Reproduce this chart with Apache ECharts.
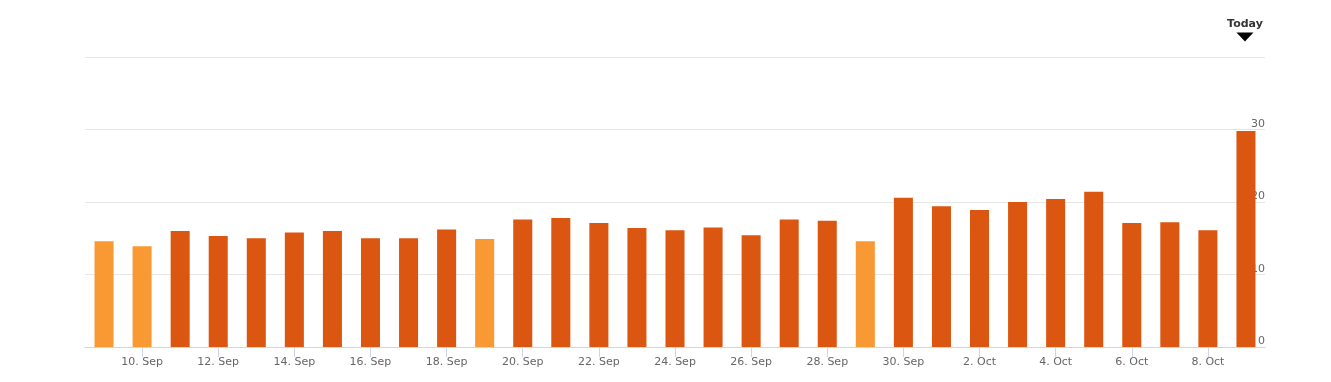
<!DOCTYPE html>
<html>
<head>
<meta charset="utf-8">
<script src="https://cdn.jsdelivr.net/npm/echarts@6/dist/echarts.min.js"></script>
<style>
html,body{margin:0;padding:0;background:#fff;}
#c{width:1331px;height:382px;}
</style>
</head>
<body>
<div id="c"></div>
<script>
// Data
const categories = [
  '9. Sep','10. Sep','11. Sep','12. Sep','13. Sep','14. Sep','15. Sep','16. Sep','17. Sep','18. Sep',
  '19. Sep','20. Sep','21. Sep','22. Sep','23. Sep','24. Sep','25. Sep','26. Sep','27. Sep','28. Sep',
  '29. Sep','30. Sep','1. Oct','2. Oct','3. Oct','4. Oct','5. Oct','6. Oct','7. Oct','8. Oct','9. Oct'
];
const values = [
  14.6, 13.9, 16.0, 15.3, 15.0, 15.8, 16.0, 15.0, 15.0, 16.2,
  14.9, 17.6, 17.8, 17.1, 16.4, 16.1, 16.5, 15.4, 17.6, 17.4,
  14.6, 20.6, 19.4, 18.9, 20.0, 20.4, 21.4, 17.1, 17.2, 16.1, 29.8
];
// categories drawn in the lighter colour
const lightDays = ['9. Sep','10. Sep','19. Sep','29. Sep'];
const todayLabel = 'Today';
const todayCategory = '9. Oct';

const darkColor = '#DB5610';
const lightColor = '#F89933';

const chart = echarts.init(document.getElementById('c'));
chart.setOption({
  animation: false,
  grid: { left: 85, right: 66, top: 57, bottom: 35 },
  xAxis: {
    type: 'category',
    data: categories,
    boundaryGap: true,
    axisLine: { lineStyle: { color: '#ccd6eb', width: 1 } },
    axisTick: { show: true, alignWithLabel: true, length: 10, lineStyle: { color: '#ccd6eb' },
      interval: (i) => i % 2 === 1 },
    axisLabel: { interval: (i) => i % 2 === 1, color: '#666666', fontSize: 11,
      fontFamily: 'DejaVu Sans', margin: 10 },
    splitLine: { show: false }
  },
  yAxis: {
    type: 'value',
    position: 'right',
    min: 0, max: 40, interval: 10,
    axisLine: { show: false },
    axisTick: { show: false },
    axisLabel: { inside: true, margin: 0, color: '#666666', fontSize: 11, fontFamily: 'DejaVu Sans',
      verticalAlign: 'bottom', align: 'right', padding: [0, 0, 0, 0],
      formatter: (v) => v === 40 ? '' : String(v) },
    splitLine: { lineStyle: { color: '#e6e6e6', width: 1 } }
  },
  series: [{
    type: 'bar',
    barWidth: '50%',
    data: values.map((v, i) => ({
      value: v,
      itemStyle: { color: lightDays.includes(categories[i]) ? lightColor : darkColor }
    })),
    markPoint: {
      silent: true,
      symbol: 'triangle',
      symbolRotate: 180,
      symbolSize: [17, 9],
      symbolOffset: [-1, -20],
      itemStyle: { color: '#000' },
      label: { show: true, position: 'top', distance: 3, formatter: todayLabel,
        color: '#333', fontWeight: 'bold', fontSize: 11, fontFamily: 'DejaVu Sans' },
      data: [{ coord: [todayCategory, 40] }]
    }
  }]
});
</script>
</body>
</html>
